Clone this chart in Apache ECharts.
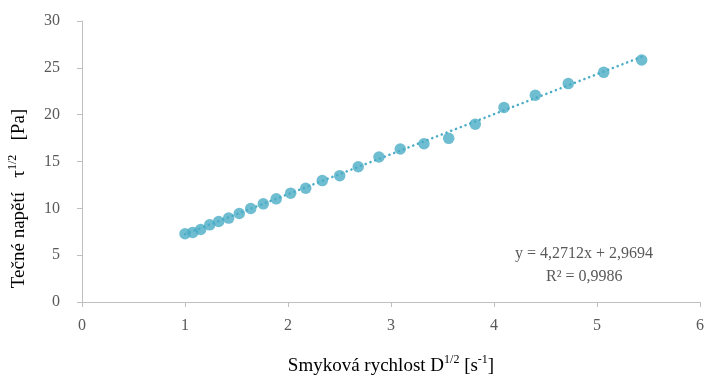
<!DOCTYPE html>
<html>
<head>
<meta charset="utf-8">
<script src="https://cdn.jsdelivr.net/npm/echarts@6/dist/echarts.min.js"></script>
<style>
html, body { margin: 0; padding: 0; background: #fff; }
#chart { width: 706px; height: 378px; }
</style>
</head>
<body>
<div id="chart"></div>
<script>
// naměřená data
var shearRate = [1.00, 1.075, 1.152, 1.24, 1.327, 1.424, 1.527, 1.638, 1.76, 1.886,
	2.026, 2.172, 2.333, 2.502, 2.682, 2.883, 3.09, 3.32, 3.56, 3.818,
	4.097, 4.401, 4.721, 5.065, 5.434];
var shearStress = [7.29, 7.43, 7.74, 8.24, 8.60, 8.96, 9.45, 9.98, 10.48, 11.01,
	11.62, 12.15, 12.96, 13.49, 14.44, 15.48, 16.33, 16.89, 17.47, 18.99,
	20.77, 22.07, 23.32, 24.52, 25.83];
// lineární trend
var slope = 4.2712;
var intercept = 2.9694;
var rSquared = '0,9986';

var points = [];
for (var i = 0; i < shearRate.length; i++) {
	points.push([shearRate[i], shearStress[i]]);
}
var xFirst = shearRate[0];
var xLast = shearRate[shearRate.length - 1];
var trend = [[xFirst, slope * xFirst + intercept], [xLast, slope * xLast + intercept]];

var font = 'Liberation Serif';
var axisGray = '#bfbfbf';
var textGray = '#595959';
var markColor = '#4bacc6';

var nameRich = {
	n: { fontFamily: font, fontSize: 19, color: '#000', verticalAlign: 'bottom', lineHeight: 22 },
	s: { fontFamily: font, fontSize: 12, color: '#000', verticalAlign: 'top', lineHeight: 22, padding: [0, 0, 9, 0] }
};

var chart = echarts.init(document.getElementById('chart'));
chart.setOption({
	animation: false,
	grid: { left: 82, right: 6, top: 21, bottom: 76, containLabel: false, outerBoundsMode: 'none' },
	xAxis: {
		type: 'value',
		min: 0, max: 6, interval: 1,
		name: '{n|Smyková rychlost D}{s|1/2}{n| [s}{s|-1}{n|]}',
		nameLocation: 'middle',
		nameGap: 52,
		nameTextStyle: { rich: nameRich },
		axisLine: { show: true, lineStyle: { color: axisGray } },
		axisTick: { show: true, length: 5, lineStyle: { color: axisGray } },
		axisLabel: { fontFamily: font, fontSize: 16, color: textGray, margin: 16 },
		splitLine: { show: false }
	},
	yAxis: {
		type: 'value',
		min: 0, max: 30, interval: 5,
		name: '{n|Tečné napětí   τ}{s|1/2}{n|   [Pa]}',
		nameLocation: 'middle',
		nameGap: 53,
		nameRotate: 90,
		nameTextStyle: { rich: nameRich, padding: [0, 74, 0, 0] },
		axisLine: { show: true, lineStyle: { color: axisGray } },
		axisTick: { show: true, length: 5, lineStyle: { color: axisGray } },
		axisLabel: { fontFamily: font, fontSize: 16, color: textGray, margin: 22 },
		splitLine: { show: false }
	},
	series: [{
		name: 'trend',
		type: 'line',
		data: trend,
		symbol: 'none',
		lineStyle: { color: markColor, width: 2.5, type: [0.1, 5], cap: 'round' },
		z: 1
	}, {
		name: 'data',
		type: 'scatter',
		data: points,
		symbolSize: 11.5,
		itemStyle: { color: markColor },
		z: 2
	}],
	graphic: [{
		type: 'text',
		left: 515, top: 246,
		style: { text: 'y = 4,2712x + 2,9694', fontFamily: font, fontSize: 16, fill: textGray }
	}, {
		type: 'text',
		left: 546, top: 269,
		style: { text: 'R² = ' + rSquared, fontFamily: font, fontSize: 16, fill: textGray }
	}]
});
</script>
</body>
</html>
